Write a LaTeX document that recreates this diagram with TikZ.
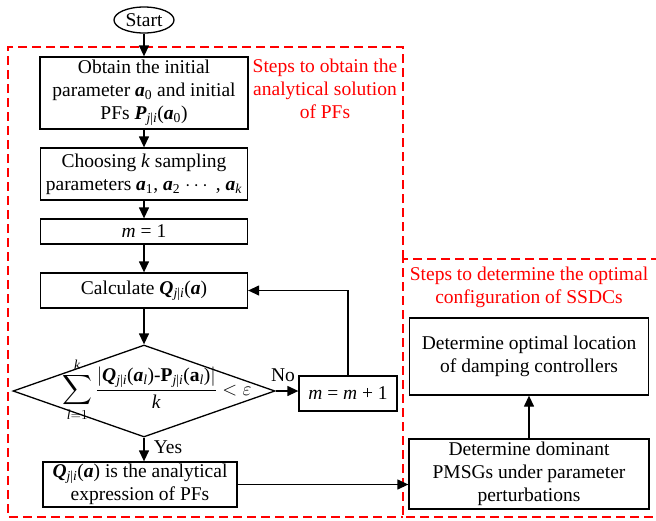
\RequirePackage{fix-cm}
\documentclass[tikz,border=0pt]{standalone}
\usepackage{amsmath}
\usepackage{fontspec}
\setmainfont{Liberation Serif}
\usetikzlibrary{shapes.geometric,arrows.meta}
% bold italic symbols and subscripts set in the text font
\newcommand{\bi}[1]{\textbf{\textit{#1}}}
\newcommand{\sbs}[1]{\textsubscript{#1}}
\newcommand{\ji}{\textsubscript{\textit{j}|\textit{i}}}
\begin{document}
\begin{tikzpicture}[x=1pt,y=-1pt,
  font=\fontsize{19.5}{23}\selectfont,
  line width=1.3pt,
  box/.style={draw, rectangle, align=center, inner sep=0pt},
  flow/.style={-{Triangle[length=11pt,width=10pt]}},
  region/.style={draw=red, dash pattern=on 9pt off 5pt, line width=1.3pt},
  note/.style={text=red, align=center}]

\useasboundingbox (0,0) rectangle (656,520);

% dashed regions
\draw[region] (403,259) -- (403,47) -- (8,47) -- (8,517) -- (403,517);
\draw[region] (660,259) -- (403,259) -- (403,517) -- (660,517);

\node[note] (note1) at (325,88.5) {Steps to obtain the\\analytical solution\\of PFs};
\node[note] (note2) at (529,287) {Steps to determine the optimal\\configuration of SSDCs};

% left column
\node[draw, ellipse, minimum width=60pt, minimum height=26pt, inner sep=0pt] (start) at (144,20) {Start};
\node[box, minimum width=208pt, minimum height=72pt] (init) at (144,93)
  {Obtain the initial\\parameter \bi{a}\sbs{0} and initial\\PFs \bi{P}\ji(\bi{a}\sbs{0})};
\node[box, minimum width=207pt, minimum height=52pt] (samp) at (144,174)
  {Choosing \textit{k} sampling\\parameters \bi{a}\sbs{1}, \bi{a}\sbs{2} $\cdots$ , \bi{a}\sbs{\textit{k}}};
\node[box, minimum width=207pt, minimum height=25pt] (minit) at (144,231.5) {\textit{m} = 1};
\node[box, minimum width=207pt, minimum height=35pt] (calc) at (144,290.5) {Calculate \bi{Q}\ji(\bi{a})};
\node[draw, diamond, minimum width=262pt, minimum height=92pt, inner sep=0pt] (test) at (144,391) {};
\node (crit) at (157,390)
  {$\displaystyle\sum_{\text{\textit{l}}=1}^{\text{\textit{k}}}
   \frac{\left|\mbox{\bi{Q}\ji(\bi{a}\sbs{\textit{l}})-\textbf{P}\ji(\textbf{a}\sbs{\textit{l}})}\right|}{\text{\textit{k}}}<\varepsilon$};
\node[box, minimum width=98pt, minimum height=35pt] (incr) at (348,393.5) {\textit{m} = \textit{m} + 1};
\node[box, minimum width=194pt, minimum height=45pt] (expr) at (140,484.5)
  {\bi{Q}\ji(\bi{a}) is the analytical\\expression of PFs};
\node (no) at (283,375) {No};
\node (yes) at (168,447) {Yes};

% right column
\node[box, minimum width=240pt, minimum height=70pt] (dom) at (529,474)
  {Determine dominant\\PMSGs under parameter\\perturbations};
\node[box, minimum width=239pt, minimum height=77pt] (loc) at (529,356.5)
  {Determine optimal location\\of damping controllers};

% connectors
\draw[flow] (start) -- (init);
\draw[flow] (init) -- (samp);
\draw[flow] (samp) -- (minit);
\draw[flow] (minit) -- (calc);
\draw[flow] (calc) -- (test);
\draw[flow] (test.east) -- (test.east -| incr.west);
\draw[flow] (incr.north) |- (calc.east);
\draw[flow] (test.south) -- (test.south |- expr.north);
\draw[flow] (expr.east) -- (expr.east -| dom.west);
\draw[flow] (dom.north) -- (loc.south);
\end{tikzpicture}
\end{document}
